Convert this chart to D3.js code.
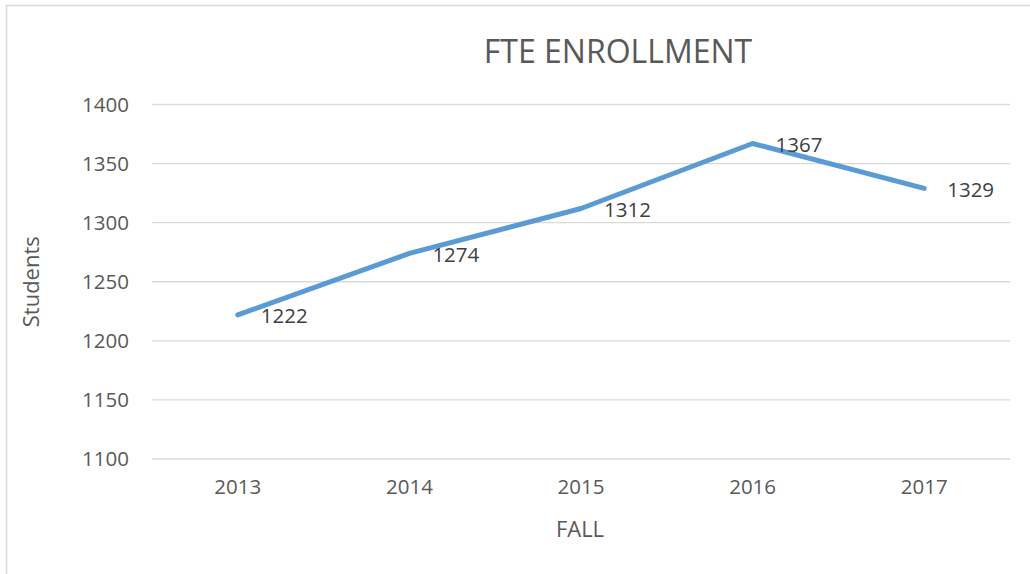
<!DOCTYPE html>
<html>
<head>
<meta charset="utf-8">
<script src="https://cdn.jsdelivr.net/npm/d3@7"></script>
<style>
  body { margin: 0; background: #fff; }
  svg text { font-family: "Open Sans", "Noto Sans", sans-serif; }
</style>
</head>
<body>
<div id="chart"></div>
<script>
// data
var years = ["2013", "2014", "2015", "2016", "2017"];
var students = [1222, 1274, 1312, 1367, 1329];
var yTicks = [1100, 1150, 1200, 1250, 1300, 1350, 1400];

var W = 1030, H = 574;
var margin = {top: 104.5, right: 20, bottom: 115, left: 152};
var width = W - margin.left - margin.right,
    height = H - margin.top - margin.bottom;

var svg = d3.select("#chart").append("svg")
  .attr("width", W)
  .attr("height", H);

// chart frame
svg.append("rect")
  .attr("x", 6.5).attr("y", 5.5)
  .attr("width", W + 10).attr("height", H + 10)
  .attr("fill", "#fff")
  .attr("stroke", "#d9d9d9")
  .attr("stroke-width", 1.5);

var g = svg.append("g")
  .attr("transform", "translate(" + margin.left + "," + margin.top + ")");

var x = d3.scaleBand().domain(years).range([0, width]);
var y = d3.scaleLinear().domain([1100, 1400]).range([height, 0]);

// gridlines
g.append("g").selectAll("line")
  .data(yTicks)
  .enter().append("line")
  .attr("x1", 0).attr("x2", width)
  .attr("y1", function(d) { return y(d); })
  .attr("y2", function(d) { return y(d); })
  .attr("stroke", "#d9d9d9")
  .attr("stroke-width", 1.3);

// y axis labels
var yAxis = d3.axisLeft(y).tickValues(yTicks).tickFormat(d3.format("d"))
  .tickSize(0).tickPadding(23);
g.append("g").call(yAxis)
  .call(function(s) { s.select(".domain").remove(); })
  .selectAll("text")
  .attr("fill", "#595959")
  .style("font-size", "20.5px");

// x axis labels
var xAxis = d3.axisBottom(x).tickSize(0).tickPadding(20);
g.append("g")
  .attr("transform", "translate(0," + height + ")")
  .call(xAxis)
  .call(function(s) { s.select(".domain").remove(); })
  .selectAll("text")
  .attr("fill", "#595959")
  .style("font-size", "20.5px");

// the line
var line = d3.line()
  .x(function(d, i) { return x(years[i]) + x.bandwidth() / 2; })
  .y(function(d) { return y(d); });

g.append("path")
  .datum(students)
  .attr("d", line)
  .attr("fill", "none")
  .attr("stroke", "#5b9bd5")
  .attr("stroke-width", 5)
  .attr("stroke-linecap", "round")
  .attr("stroke-linejoin", "round");

// value labels to the right of each point
g.append("g").selectAll("text")
  .data(students)
  .enter().append("text")
  .attr("x", function(d, i) { return x(years[i]) + x.bandwidth() / 2 + 23; })
  .attr("y", function(d) { return y(d) + 1; })
  .attr("dy", "0.35em")
  .attr("fill", "#404040")
  .style("font-size", "20.5px")
  .text(function(d) { return d; });

// titles
svg.append("text")
  .attr("x", 618).attr("y", 52)
  .attr("dy", "0.35em")
  .attr("text-anchor", "middle")
  .attr("fill", "#595959")
  .style("font-size", "32px")
  .text("FTE ENROLLMENT");

svg.append("text")
  .attr("transform", "translate(31," + (margin.top + height / 2) + ") rotate(-90)")
  .attr("dy", "0.35em")
  .attr("text-anchor", "middle")
  .attr("fill", "#595959")
  .style("font-size", "22px")
  .text("Students");

svg.append("text")
  .attr("x", 580).attr("y", 529)
  .attr("dy", "0.35em")
  .attr("text-anchor", "middle")
  .attr("fill", "#595959")
  .style("font-size", "22px")
  .text("FALL");
</script>
</body>
</html>
